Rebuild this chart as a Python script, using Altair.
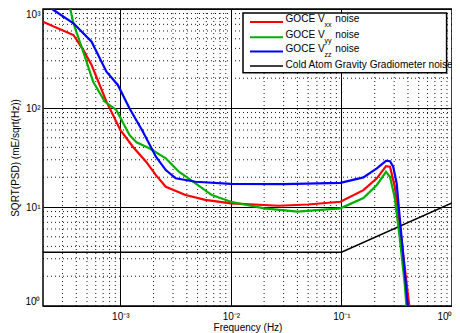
import math
import altair as alt
import pandas as pd

# ---------------- data ----------------
red_f = [2.02e-4, 3.77e-4, 4.62e-4, 5.5e-4, 7.5e-4, 1.0e-3, 1.3e-3, 1.71e-3, 2.1e-3, 2.58e-3,
         3.89e-3, 5.87e-3, 1.0e-2, 2.7e-2, 5.0e-2, 0.098, 0.158, 0.209, 0.253, 0.275,
         0.304, 0.336, 0.373, 0.411, 0.42]
red_v = [740, 546, 386, 272, 116, 60, 40.6, 28.7, 21, 16.0,
         13.2, 11.8, 10.9, 10.3, 10.6, 11.3, 14.8, 19.5, 25.9, 25.5,
         16, 6.8, 2.5, 1.0, 0.8]

green_f = [3.3e-4, 3.77e-4, 4.62e-4, 5.69e-4, 7.24e-4, 9.2e-4, 1.0e-3, 1.21e-3, 1.4e-3, 1.83e-3,
           2.58e-3, 3.39e-3, 4.79e-3, 6.73e-3, 1.0e-2, 2.0e-2, 4.0e-2, 0.098, 0.158, 0.209,
           0.253, 0.275, 0.304, 0.336, 0.373, 0.39]
green_v = [1400, 717, 370, 184, 116, 95.5, 80, 53.4, 45, 39.2,
           31, 22.7, 17.3, 13.2, 11.3, 9.7, 9.0, 9.7, 12.3, 16.7,
           22.7, 20.2, 12.3, 5.0, 1.7, 0.9]

blue_f = [2.02e-4, 2.49e-4, 3.77e-4, 5.5e-4, 7.5e-4, 9.5e-4, 1.21e-3, 1.59e-3, 2.1e-3, 2.58e-3,
          3.17e-3, 4.79e-3, 1.0e-2, 3.0e-2, 0.098, 0.158, 0.209, 0.253, 0.275, 0.294,
          0.316, 0.336, 0.361, 0.398, 0.41]
blue_v = [1150, 977, 717, 467, 233, 171, 99.3, 58.5, 32.2, 23.6,
          19.5, 18.0, 17.1, 17.0, 17.5, 19.9, 24.6, 29.3, 29.0, 25.5,
          17.3, 8.0, 3.4, 1.0, 0.8]

black_f = [2.0e-4, 0.1, 1.0]
black_v = [3.5, 3.5, 11.0]

x_ticks = [1e-3, 1e-2, 1e-1, 1.0]
x_tick_labels = ["10\u207b\u00b3", "10\u207b\u00b2", "10\u207b\u00b9", "10\u2070"]
y_ticks = [1, 10, 100, 1000]
y_tick_labels = ["10\u2070", "10\u00b9", "10\u00b2", "10\u00b3"]

legend_main = ["GOCE V", "GOCE V", "GOCE V", "Cold Atom Gravity Gradiometer noise"]
legend_sub = ["xx", "yy", "zz", ""]
legend_colors = ["#ff0000", "#00b000", "#0000ff", "#000000"]

x_title = "Frequency (Hz)"
y_title = "SQRT(PSD) (mE/sqrt(Hz))"

minor_x = [m * 10.0 ** d for d in range(-4, 0) for m in range(2, 10) if 2.0e-4 < m * 10.0 ** d < 1.0]
minor_y = [m * 10.0 ** d for d in range(0, 3) for m in range(2, 10)]

FONT = "Liberation Sans, Arial, Helvetica, sans-serif"
W, H = 409, 297


def label_expr(vals, labels):
    expr = "''"
    for v, lab in reversed(list(zip(vals, labels))):
        expr = f"abs(log(datum.value)/LN10 - ({math.log10(v):.4f})) < 0.01 ? '{lab}' : {expr}"
    return expr


xscale = alt.Scale(type="log", domain=[2.0e-4, 1.0], nice=False)
yscale = alt.Scale(type="log", domain=[1, 1000], nice=False)

xaxis = alt.Axis(values=x_ticks, labelExpr=label_expr(x_ticks, x_tick_labels),
                 grid=True, gridColor="#000", gridOpacity=1, gridWidth=1,
                 domain=False, ticks=False, tickSize=0,
                 labelFont=FONT, labelFontSize=10, labelColor="black", labelPadding=5,
                 labelFlush=True, labelOverlap=False,
                 title=x_title, titleFont=FONT, titleFontSize=10, titleFontWeight="normal",
                 titleColor="black", titleY=21.5, titleBaseline="middle")
yaxis = alt.Axis(values=y_ticks, labelExpr=label_expr(y_ticks, y_tick_labels),
                 grid=True, gridColor="#000", gridOpacity=1, gridWidth=1,
                 domain=False, ticks=False, tickSize=0,
                 labelFont=FONT, labelFontSize=10, labelColor="black", labelPadding=3,
                 labelFlush=True, labelOverlap=False,
                 title=y_title, titleFont=FONT, titleFontSize=10, titleFontWeight="normal",
                 titleColor="black", titleX=-28, titleY=148.5, titleAngle=270,
                 titleAlign="center", titleBaseline="middle")


def X(field):
    return alt.X(field, type="quantitative", scale=xscale, axis=xaxis)


def Y(field):
    return alt.Y(field, type="quantitative", scale=yscale, axis=yaxis)


grid_x = alt.Chart(pd.DataFrame({"f": minor_x})).mark_rule(
    color="#000", strokeWidth=1, strokeDash=[1, 3], opacity=0.9
).encode(x=X("f"))
grid_y = alt.Chart(pd.DataFrame({"v": minor_y})).mark_rule(
    color="#000", strokeWidth=1, strokeDash=[1, 3], opacity=0.9
).encode(y=Y("v"))


def curve(fs, vs, color, width):
    return alt.Chart(pd.DataFrame({"f": fs, "v": vs})).mark_line(
        color=color, strokeWidth=width, clip=True
    ).encode(x=X("f"), y=Y("v"))


layers = [grid_x, grid_y,
          curve(black_f, black_v, "#000000", 1.5),
          curve(red_f, red_v, legend_colors[0], 2.2),
          curve(green_f, green_v, legend_colors[1], 2.2),
          curve(blue_f, blue_v, legend_colors[2], 2.2)]

# ---------------- legend (drawn box) ----------------
base = alt.Chart(pd.DataFrame({"a": [0]}))
layers.append(base.mark_rect(fill="white", stroke="black", strokeWidth=1.5).encode(
    x=alt.value(200), x2=alt.value(403.6), y=alt.value(4), y2=alt.value(63.7)))
row_y = [13, 28.3, 42.5, 57]
LF = 10.1
TX = 242.5
for i, (main, sub, col) in enumerate(zip(legend_main, legend_sub, legend_colors)):
    ry = row_y[i]
    layers.append(base.mark_rule(color=col, strokeWidth=2 if sub else 1.5).encode(
        x=alt.value(207), x2=alt.value(240), y=alt.value(ry)))
    if sub:
        layers.append(base.mark_text(align="left", baseline="middle", font=FONT, fontSize=LF,
                                     color="black", text=main).encode(
            x=alt.value(TX), y=alt.value(ry - 2.6)))
        layers.append(base.mark_text(align="left", baseline="middle", font=FONT, fontSize=7,
                                     color="black", text=sub).encode(
            x=alt.value(TX + 39), y=alt.value(ry + 3.4)))
        layers.append(base.mark_text(align="left", baseline="middle", font=FONT, fontSize=LF,
                                     color="black", text="noise").encode(
            x=alt.value(TX + 49.8), y=alt.value(ry - 2.6)))
    else:
        layers.append(base.mark_text(align="left", baseline="middle", font=FONT, fontSize=LF,
                                     color="black", text=main).encode(
            x=alt.value(TX), y=alt.value(ry - 1)))

chart = alt.layer(*layers).properties(
    width=W, height=H,
    autosize=alt.AutoSizeParams(type="none"),
    padding={"left": 35, "top": 1, "right": 0, "bottom": 27},
    background="white",
).configure_view(stroke="black", strokeWidth=1.5)

chart.save("out.html", embed_options={"renderer": "svg", "actions": False})
